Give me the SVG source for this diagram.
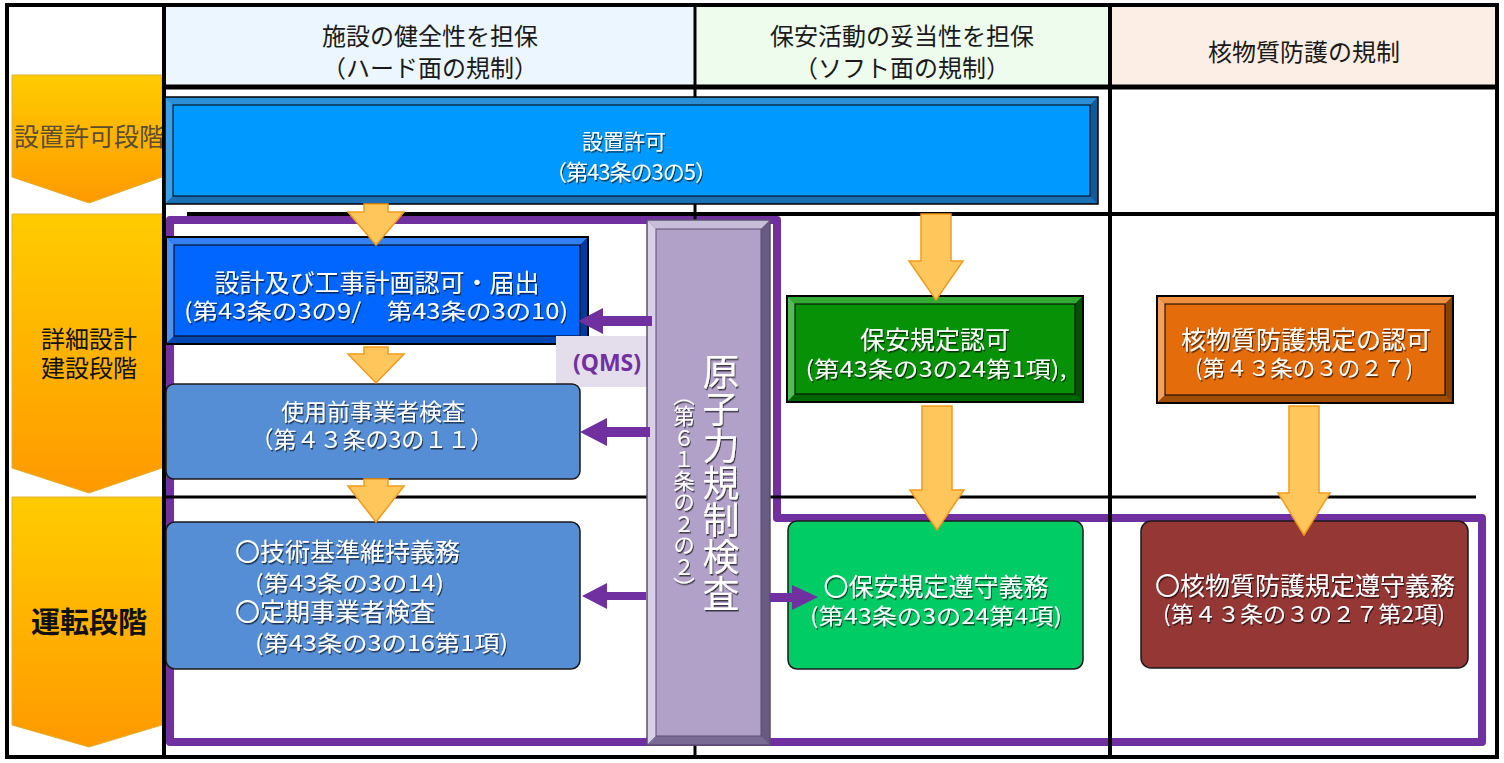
<svg xmlns="http://www.w3.org/2000/svg" width="1504" height="763" viewBox="0 0 1504 763">
<defs>
  <linearGradient id="stg" x1="0" y1="0" x2="0" y2="1">
    <stop offset="0" stop-color="#FFCC00"/>
    <stop offset="1" stop-color="#FF9900"/>
  </linearGradient>
  <filter id="sh" x="-10%" y="-30%" width="120%" height="160%">
    <feDropShadow dx="1" dy="1.5" stdDeviation="0.6" flood-color="#000" flood-opacity="0.65"/>
  </filter>
</defs>
<style>
  text { font-family: "Noto Sans CJK JP", "Noto Sans", sans-serif; dominant-baseline: central; }
  .hd { font-size: 24px; fill: #1a1a1a; text-anchor: middle; }
  .wt { font-size: 25px; fill: #fff; text-anchor: middle; filter: url(#sh); }
  .ws { font-size: 22px; fill: #fff; text-anchor: middle; filter: url(#sh); }
  .wl { font-size: 25px; fill: #fff; text-anchor: start; filter: url(#sh); }
  .wls { font-size: 22px; fill: #fff; text-anchor: start; filter: url(#sh); }
  .grid { stroke: #000; fill: none; }
  .ln { stroke: #000; stroke-width: 1; }
  .oa { fill: #FFC65C; stroke: #F39A1E; stroke-width: 1.5; stroke-linejoin: miter; }
  .pa { fill: #7030A0; }
  .stage { fill: url(#stg); stroke: #E0B030; stroke-width: 1; }
</style>

<rect x="0" y="0" width="1504" height="763" fill="#fff"/>

<!-- header cells -->
<g id="header">
  <rect x="166" y="7" width="528" height="79" fill="#EBF6FE"/>
  <rect x="697" y="7" width="412" height="79" fill="#EEFCEE"/>
  <rect x="1112" y="7" width="383" height="79" fill="#FDEEE5"/>
  <text class="hd" x="430" y="34">施設の健全性を担保</text>
  <text class="hd" x="430" y="66">（ハード面の規制）</text>
  <text class="hd" x="902" y="34">保安活動の妥当性を担保</text>
  <text class="hd" x="902" y="66">（ソフト面の規制）</text>
  <text class="hd" x="1304" y="50">核物質防護の規制</text>
</g>

<!-- stages -->
<g id="stage1">
  <polygon class="stage" points="12,75 162,75 162,177 89,203 12,177"/>
  <text x="89" y="135" style="font-size:25px;fill:#5a4e2e;text-anchor:middle">設置許可段階</text>
</g>
<g id="stage2">
  <polygon class="stage" points="12,214 162,214 162,468 89,493 12,468"/>
  <text x="89" y="337" style="font-size:24px;fill:#111;text-anchor:middle">詳細設計</text>
  <text x="89" y="366" style="font-size:24px;fill:#111;text-anchor:middle">建設段階</text>
</g>
<g id="stage3">
  <polygon class="stage" points="12,497 162,497 162,725 89,747 12,725"/>
  <text x="89" y="620" style="font-size:29px;font-weight:bold;fill:#111;text-anchor:middle">運転段階</text>
</g>

<!-- purple frame (inspection scope) -->
<g id="scope">
  <path d="M170,220 H777 V518 H1482 V742 H170 Z" fill="none" stroke="#7030A0" stroke-width="8" stroke-linejoin="round"/>
</g>

<!-- grid -->
<g id="grid" class="grid">
  <rect x="7" y="5" width="1490" height="752" stroke-width="4"/>
  <line x1="164" y1="5" x2="164" y2="757" stroke-width="4"/>
  <line x1="164" y1="87" x2="1497" y2="87" stroke-width="5"/>
  <line x1="695" y1="5" x2="695" y2="757" stroke-width="3"/>
  <line x1="1110" y1="5" x2="1110" y2="757" stroke-width="4"/>
  <line x1="187" y1="214" x2="1497" y2="214" stroke-width="4"/>
  <line x1="164" y1="497" x2="1476" y2="497" stroke-width="3"/>
</g>

<!-- 設置許可 -->
<g id="n-setchi">
  <rect x="165" y="97" width="933" height="107" fill="#1B6FB5"/>
  <polygon points="165,97 1098,97 1090,105 173,105" fill="#2B8FD8"/>
  <polygon points="165,97 173,105 173,196 165,204" fill="#3AA0E8"/>
  <polygon points="165,204 173,196 1090,196 1098,204" fill="#1B6FB5"/>
  <polygon points="1098,97 1098,204 1090,196 1090,105" fill="#125A95"/>
  <rect class="ln" x="173" y="105" width="917" height="91" fill="#0099FF"/>
  <rect x="165" y="97" width="933" height="107" fill="none" stroke="#000" stroke-width="1.5"/>
  <text class="ws" x="624" y="140" style="font-size:21px">設置許可</text>
  <text class="ws" x="631" y="170" textLength="172" lengthAdjust="spacing">（第43条の3の5）</text>
</g>

<!-- 設計及び工事計画 -->
<g id="n-sekkei">
  <rect x="166" y="237" width="422" height="107" fill="#0047B3"/>
  <polygon points="166,237 588,237 580,245 174,245" fill="#3380F5"/>
  <polygon points="166,237 174,245 174,336 166,344" fill="#4D90F5"/>
  <polygon points="166,344 174,336 580,336 588,344" fill="#0047B3"/>
  <polygon points="588,237 588,344 580,336 580,245" fill="#003C99"/>
  <rect class="ln" x="174" y="245" width="406" height="91" fill="#0066FF"/>
  <rect x="166" y="237" width="422" height="107" fill="none" stroke="#000" stroke-width="2"/>
  <text class="wt" x="377" y="281">設計及び工事計画認可・届出</text>
  <text class="ws" x="376" y="309" textLength="384" lengthAdjust="spacingAndGlyphs">(第43条の3の9/　第43条の3の10)</text>
</g>

<!-- QMS label -->
<g id="n-qms">
  <rect x="556" y="336" width="91" height="51" fill="#E4DEEC"/>
  <text x="607" y="362" style="font-family:'Noto Sans','Liberation Sans',sans-serif;font-size:23px;font-weight:bold;fill:#7030A0;text-anchor:middle">(QMS)</text>
</g>

<!-- 使用前事業者検査 -->
<g id="n-shiyomae">
  <rect x="166" y="384" width="414" height="95" rx="8" fill="#558ED5" stroke="#1a1a1a" stroke-width="1.5"/>
  <text class="wt" x="373" y="410" style="font-size:23px">使用前事業者検査</text>
  <text class="ws" x="372" y="438" style="font-size:23px">（第４３条の3の１１）</text>
</g>

<!-- 運転段階 ハード -->
<g id="n-gijutsu">
  <rect x="166" y="522" width="414" height="147" rx="9" fill="#558ED5" stroke="#1a1a1a" stroke-width="1.5"/>
  <text class="wl" x="235" y="550">〇技術基準維持義務</text>
  <text class="wls" x="255" y="581" textLength="189" lengthAdjust="spacingAndGlyphs">(第43条の3の14)</text>
  <text class="wl" x="235" y="610">〇定期事業者検査</text>
  <text class="wls" x="255" y="641" textLength="253" lengthAdjust="spacingAndGlyphs">(第43条の3の16第1項)</text>
</g>

<!-- 保安規定認可 -->
<g id="n-hoan">
  <rect x="787" y="296" width="296" height="106" fill="#006600"/>
  <polygon points="787,296 1083,296 1075,304 795,304" fill="#33AA33"/>
  <polygon points="787,296 795,304 795,394 787,402" fill="#55BB55"/>
  <polygon points="787,402 795,394 1075,394 1083,402" fill="#006600"/>
  <polygon points="1083,296 1083,402 1075,394 1075,304" fill="#005200"/>
  <rect class="ln" x="795" y="304" width="280" height="90" fill="#079107"/>
  <rect x="787" y="296" width="296" height="106" fill="none" stroke="#000" stroke-width="2"/>
  <text class="wt" x="935" y="338">保安規定認可</text>
  <text class="ws" x="936" y="367" textLength="261" lengthAdjust="spacingAndGlyphs">(第43条の3の24第1項),</text>
</g>

<!-- 核物質防護規定の認可 -->
<g id="n-kaku">
  <rect x="1157" y="296" width="296" height="107" fill="#A04D08"/>
  <polygon points="1157,296 1453,296 1445,304 1165,304" fill="#EE9040"/>
  <polygon points="1157,296 1165,304 1165,395 1157,403" fill="#F0A060"/>
  <polygon points="1157,403 1165,395 1445,395 1453,403" fill="#A04D08"/>
  <polygon points="1453,296 1453,403 1445,395 1445,304" fill="#8B4005"/>
  <rect class="ln" x="1165" y="304" width="280" height="91" fill="#E46C0A"/>
  <rect x="1157" y="296" width="296" height="107" fill="none" stroke="#000" stroke-width="2"/>
  <text class="wt" x="1306" y="338">核物質防護規定の認可</text>
  <text class="ws" x="1304" y="366" textLength="218" lengthAdjust="spacingAndGlyphs">(第４３条の３の２７)</text>
</g>

<!-- 保安規定遵守義務 -->
<g id="n-hoan-junshu">
  <rect x="788" y="521" width="295" height="148" rx="9" fill="#00CC66" stroke="#1a1a1a" stroke-width="1.5"/>
  <text class="wt" x="936" y="585">〇保安規定遵守義務</text>
  <text class="ws" x="936" y="614" textLength="252" lengthAdjust="spacingAndGlyphs">(第43条の3の24第4項)</text>
</g>

<!-- 核物質防護規定遵守義務 -->
<g id="n-kaku-junshu">
  <rect x="1141" y="521" width="327" height="147" rx="10" fill="#953735" stroke="#1a1a1a" stroke-width="1.5"/>
  <text class="wt" x="1305" y="584">〇核物質防護規定遵守義務</text>
  <text class="ws" x="1304" y="612" textLength="282" lengthAdjust="spacingAndGlyphs">(第４３条の３の２７第2項)</text>
</g>

<!-- 原子力規制検査 -->
<g id="n-kensa">
  <rect x="647" y="220" width="123" height="525" fill="#6E5F88"/>
  <polygon points="647,220 770,220 761,229 656,229" fill="#C9BEDA"/>
  <polygon points="647,220 656,229 656,736 647,745" fill="#D8D0E6"/>
  <polygon points="647,745 656,736 761,736 770,745" fill="#7A6B94"/>
  <polygon points="770,220 770,745 761,736 761,229" fill="#685A80"/>
  <rect x="656" y="229" width="105" height="507" fill="#B1A0C7" stroke="#5b4d72" stroke-width="1"/>
  <rect x="647" y="220" width="123" height="525" fill="none" stroke="#5b4d72" stroke-width="1.5"/>
  <text x="721" y="353" style="writing-mode:vertical-rl;font-size:37px;fill:#fff;filter:url(#sh);dominant-baseline:auto">原子力規制検査</text>
  <text x="684" y="384" style="writing-mode:vertical-rl;font-size:21.5px;fill:#fff;filter:url(#sh);dominant-baseline:auto">（第６１条の２の２）</text>
</g>

<!-- connectors -->
<g id="connectors">
  <path class="oa" d="M364,204 H388 V212 H404 L376,245 L348,212 H364 Z"/>
  <path class="oa" d="M364,347 H388 V354 H404 L376,383 L348,354 H364 Z"/>
  <path class="oa" d="M364,479 H388 V486 H404 L376,522 L348,486 H364 Z"/>
  <path class="oa" d="M921,214 H951 V261 H963 L936,300 L909,261 H921 Z"/>
  <path class="oa" d="M922,406 H952 V490 H964 L937,530 L910,490 H922 Z"/>
  <path class="oa" d="M1289,406 H1319 V493 H1330 L1304,535 L1278,493 H1289 Z"/>
  <polygon class="pa" points="652,316 603,316 603,308 578,321 603,334 603,326 652,326"/>
  <polygon class="pa" points="650,427 607,427 607,418 580,432 607,446 607,437 650,437"/>
  <polygon class="pa" points="646,592 607,592 607,583 582,596 607,609 607,600 646,600"/>
  <polygon class="pa" points="770,593 792,593 792,585 818,597 792,610 792,602 770,602"/>
</g>
</svg>
